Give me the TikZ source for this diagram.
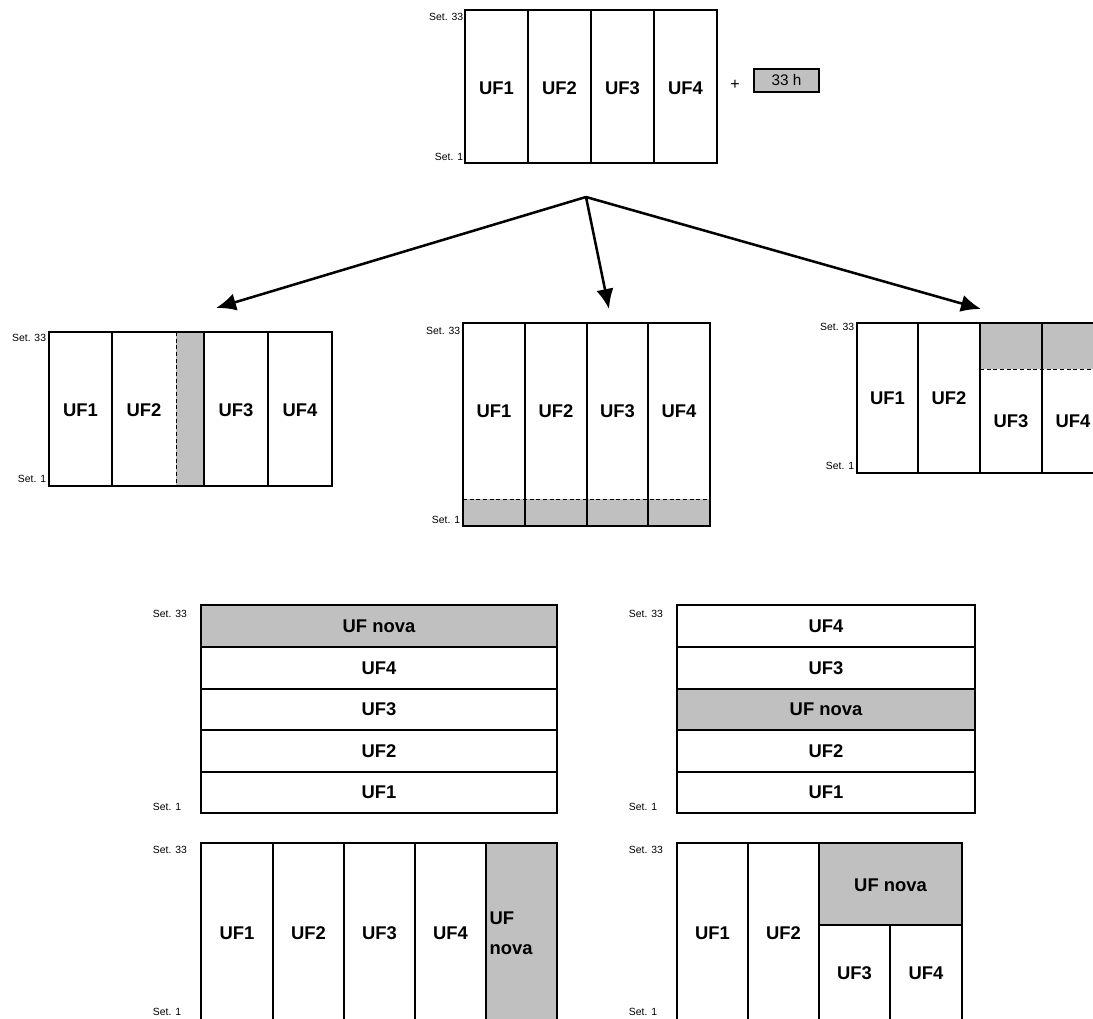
\documentclass[tikz,border=0pt]{standalone}
\usepackage{fontspec}
\setmainfont{Liberation Sans}
\usepackage{tikz}
\usetikzlibrary{arrows.meta}
\usetikzlibrary{positioning}
\definecolor{novagray}{RGB}{192,192,192}

\begin{document}
\begin{tikzpicture}[x=0.75pt,y=-0.75pt,>={Latex[length=15pt,width=13pt]},line width=0.9pt,
    uf/.style={font=\fontsize{13.8}{22.5}\selectfont\bfseries,inner sep=0pt},
    set node/.style={font=\fontsize{7.8}{9}\selectfont,inner sep=1pt},
    nova/.style={fill=novagray},
    cut/.style={densely dashed,line width=0.5pt}]
    \useasboundingbox (0,0) rectangle (1093,1019);

    % start: 4 UF + 33 h
    \draw (465,10) rectangle (717,163);
    \foreach \x in {528,591,654} \draw (\x,10) -- (\x,163);
    \foreach \x/\n in {496.5/1,559.5/2,622.5/3,685.5/4} \node[uf] (top\n) at (\x,88) {UF\n};
    \node[set node,anchor=east] (top33) at (465,17) {Set. 33};
    \node[set node,anchor=east] (topone) at (465,157) {Set. 1};
    \node[font=\fontsize{12}{14}\selectfont] (plus) at (735,85) {+};
    \node[draw,nova,line width=0.8pt,minimum width=48.75pt,minimum height=17.25pt,inner sep=0pt,
      font=\fontsize{11.5}{13}\selectfont] (hours) at (786.5,80.5) {33 h};

    % arrows
    \coordinate (split) at (586,197);
    \coordinate (toleft) at (216,308);
    \coordinate (tomid) at (609,309);
    \coordinate (toright) at (981,309);
    \draw[->,line width=1.9pt] (split) -- (toleft);
    \draw[->,line width=1.9pt] (split) -- (tomid);
    \draw[->,line width=1.9pt] (split) -- (toright);

    % option a: extra column
    \fill[nova] (176,332) rectangle (204,486);
    \draw (49,332) rectangle (332,486);
    \foreach \x in {112,204,268} \draw (\x,332) -- (\x,486);
    \draw[cut] (176,332) -- (176,486);
    \foreach \x/\n in {80.5/1,144/2,236/3,300/4} \node[uf] (a\n) at (\x,410) {UF\n};
    \node[set node,anchor=east] (a33) at (48,338) {Set. 33};
    \node[set node,anchor=east] (aone) at (48,479) {Set. 1};

    % option b: extra row
    \fill[nova] (463,499) rectangle (710,526);
    \draw (463,323) rectangle (710,526);
    \foreach \x in {525,587,648} \draw (\x,323) -- (\x,526);
    \draw[cut] (463,499) -- (710,499);
    \foreach \x/\n in {494/1,556/2,617.5/3,679/4} \node[uf] (b\n) at (\x,411) {UF\n};
    \node[set node,anchor=east] (b33) at (462,331) {Set. 33};
    \node[set node,anchor=east] (bone) at (462,520) {Set. 1};

    % option c: extra top block
    \fill[nova] (980,323) rectangle (1104,369);
    \draw (857,323) rectangle (1104,473);
    \foreach \x in {918,980,1042} \draw (\x,323) -- (\x,473);
    \draw[cut] (980,369) -- (1104,369);
    \node[uf] (c1) at (887.5,398) {UF1};
    \node[uf] (c2) at (949,398) {UF2};
    \node[uf] (c3) at (1011,421) {UF3};
    \node[uf] (c4) at (1073,421) {UF4};
    \node[set node,anchor=east] (c33) at (856,327) {Set. 33};
    \node[set node,anchor=east] (cone) at (856,466) {Set. 1};

    % rows, new UF on top
    \fill[nova] (201,605) rectangle (557,647);
    \draw (201,605) rectangle (557,813);
    \foreach \y in {647,689,730,772} \draw (201,\y) -- (557,\y);
    \foreach \y/\t [count=\i] in {626/UF nova,668/UF4,709.5/UF3,751/UF2,792.5/UF1}
      \node[uf] (d\i) at (379,\y) {\t};
    \node[set node,anchor=west] (d33) at (151,614) {Set. 33};
    \node[set node,anchor=west] (done) at (151,807) {Set. 1};

    % rows, new UF in the middle
    \fill[nova] (677,689) rectangle (975,730);
    \draw (677,605) rectangle (975,813);
    \foreach \y in {647,689,730,772} \draw (677,\y) -- (975,\y);
    \foreach \y/\t [count=\i] in {626/UF4,668/UF3,709.5/UF nova,751/UF2,792.5/UF1}
      \node[uf] (e\i) at (826,\y) {\t};
    \node[set node,anchor=west] (e33) at (627,614) {Set. 33};
    \node[set node,anchor=west] (eone) at (627,807) {Set. 1};

    % columns, new UF on the right
    \fill[nova] (486,843) rectangle (557,1023);
    \draw (201,843) rectangle (557,1023);
    \foreach \x in {273,344,415,486} \draw (\x,843) -- (\x,1023);
    \foreach \x/\n in {237/1,308.5/2,379.5/3,450.5/4} \node[uf] (f\n) at (\x,933) {UF\n};
    \node[uf,anchor=west,align=left] (fnova) at (489,933) {UF\\nova};
    \node[set node,anchor=west] (f33) at (151,850) {Set. 33};
    \node[set node,anchor=west] (fone) at (151,1012) {Set. 1};

    % columns, new UF above UF3 and UF4
    \fill[nova] (819,843) rectangle (962,925);
    \draw (677,843) rectangle (962,1023);
    \foreach \x in {748,819} \draw (\x,843) -- (\x,1023);
    \draw (819,925) -- (962,925);
    \draw (890,925) -- (890,1023);
    \node[uf] (g1) at (712.5,933) {UF1};
    \node[uf] (g2) at (783.5,933) {UF2};
    \node[uf] (gnova) at (890.5,885) {UF nova};
    \node[uf] (g3) at (854.5,973) {UF3};
    \node[uf] (g4) at (926,973) {UF4};
    \node[set node,anchor=west] (g33) at (627,850) {Set. 33};
    \node[set node,anchor=west] (gone) at (627,1012) {Set. 1};
\end{tikzpicture}
\end{document}
